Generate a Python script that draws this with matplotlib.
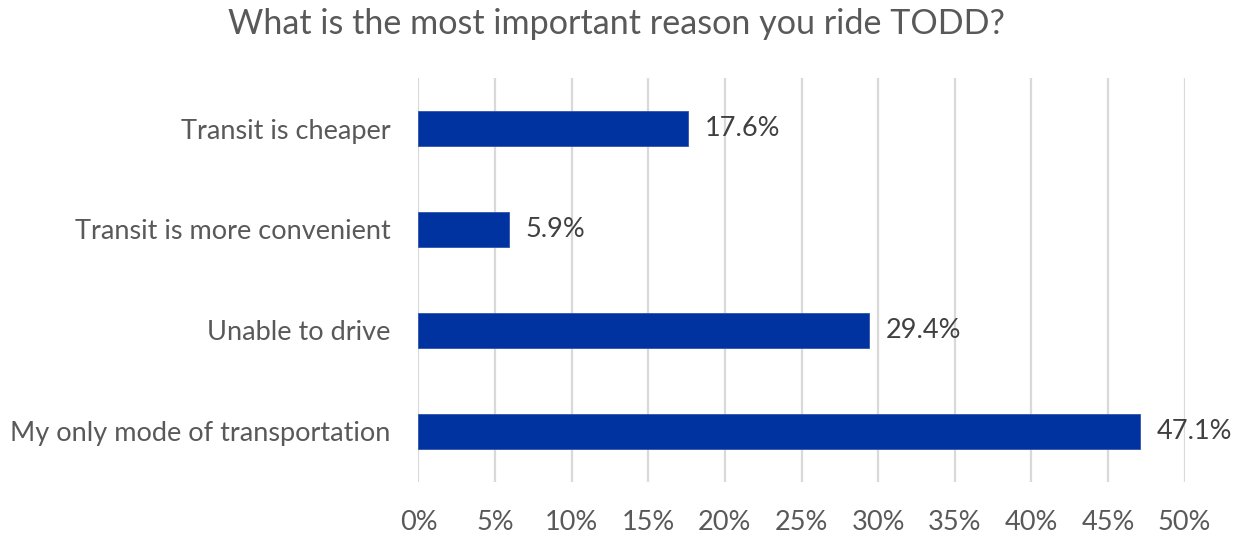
import matplotlib
matplotlib.use("Agg")
import matplotlib.pyplot as plt
from matplotlib.ticker import MultipleLocator, FuncFormatter

categories = ["My only mode of transportation", "Unable to drive",
              "Transit is more convenient", "Transit is cheaper"]
values = [47.1, 29.4, 5.9, 17.6]
value_labels = ["47.1%", "29.4%", "5.9%", "17.6%"]
title = "What is the most important reason you ride TODD?"

plt.rcParams["font.family"] = ["Lato", "DejaVu Sans"]

fig = plt.figure(figsize=(12.37, 5.35), dpi=100)
ax = fig.add_axes([0.3383, 0.0991, 0.6193, 0.7551])

bar_color = "#0033A0"
ax.barh(range(len(categories)), values, height=0.356, color=bar_color,
        edgecolor="#2F55B0", linewidth=0.6, zorder=3)

for i, (v, lab) in enumerate(zip(values, value_labels)):
    ax.text(v + 1.1, i, lab, va="center", ha="left", fontsize=19.5,
            color="#404040")

ax.set_xlim(0, 50)
ax.set_ylim(-0.5, len(categories) - 0.5)
ax.xaxis.set_major_locator(MultipleLocator(5))
ax.xaxis.set_major_formatter(FuncFormatter(lambda x, _: f"{x:.0f}%"))
ax.grid(axis="x", color="#D9D9D9", linewidth=1.6, zorder=0)
ax.set_yticks(range(len(categories)))
ax.set_yticklabels(categories)

ax.tick_params(axis="x", length=0, pad=20, labelsize=19.5, labelcolor="#595959")
ax.tick_params(axis="y", length=0, pad=20, labelsize=19.5, labelcolor="#595959")
for s in ax.spines.values():
    s.set_visible(False)

fig.text(0.4984, 0.956, title, ha="center", va="center", fontsize=24.6,
         color="#595959")

fig.savefig("out.png", dpi=100)
